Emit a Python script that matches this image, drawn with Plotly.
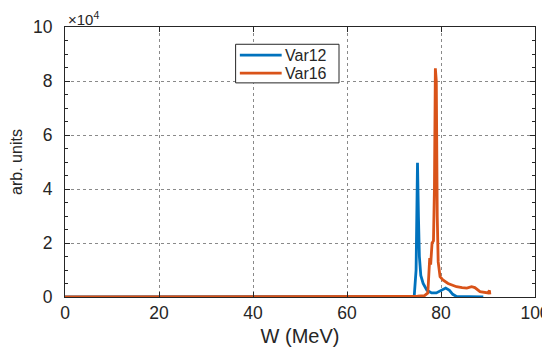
import plotly.graph_objects as go

# Var12 (blue) spectrum
w12 = [0, 60, 70, 73, 74.3, 74.7, 75.0, 75.2, 75.4, 75.7, 76.2, 77, 78, 79, 80, 81, 81.8, 82.5, 83.3, 86, 89]
v12 = [0, 0, 0, 0, 200, 10000, 49700, 30000, 15000, 8000, 5000, 2500, 1500, 1500, 2500, 3300, 2500, 1000, 200, 0, 0]

# Var16 (orange) spectrum
w16 = [0, 60, 69, 72, 75, 76.5, 77.2, 77.6, 77.8, 78.1, 78.4, 78.6, 78.8, 79.0, 79.2, 79.4, 79.8, 80.4, 81.5, 83.3, 84.5,
       85.5, 86.5, 87.2, 88.3, 89.3, 90.0, 90.3, 90.4]
v16 = [0, 0, 100, 200, 300, 500, 1500, 14400, 12000, 20000, 20800, 40000, 84700, 80000, 30000, 13000, 7500, 6300, 5000,
       3800, 3500, 3300, 3800, 3500, 2000, 1700, 1500, 2400, 1000]

series_names = ["Var12", "Var16"]
series_colors = ["#0072BD", "#D95319"]

yticks = [0, 20000, 40000, 60000, 80000, 100000]
ytick_labels = ["0", "2", "4", "6", "8", "10"]
xticks = [0, 20, 40, 60, 80, 100]

fig = go.Figure()
for wx, vy, nm, col in zip([w12, w16], [v12, v16], series_names, series_colors):
    fig.add_trace(go.Scatter(x=wx, y=vy, mode="lines", name=nm,
                             line=dict(color=col, width=2.8), showlegend=False))

font_family = "Liberation Sans, Arial, sans-serif"
axis_common = dict(showline=True, linecolor="#262626", linewidth=1, mirror="ticks",
                   ticks="inside", ticklen=5, tickcolor="#262626",
                   showgrid=True, gridcolor="#8a8a8a", griddash="dot", gridwidth=1,
                   zeroline=False, automargin=False, ticklabeloverflow="allow",
                   tickfont=dict(size=17.5, color="#262626", family=font_family))

fig.update_layout(
    width=542, height=343,
    margin=dict(l=57, r=15, t=19, b=54),
    paper_bgcolor="white", plot_bgcolor="white",
    font=dict(family=font_family, color="#262626"),
    showlegend=False,
    xaxis=dict(range=[0, 100], tickvals=xticks,
               title=dict(text="W (MeV)", font=dict(size=20), standoff=6),
               **axis_common),
    yaxis=dict(range=[0, 100000], tickvals=yticks, ticktext=ytick_labels,
               ticklabelstandoff=8,
               title=dict(text="arb. units", font=dict(size=16), standoff=12),
               minor=dict(ticks="inside", ticklen=3, tickcolor="#262626", nticks=5, showgrid=False),
               **axis_common),
)

# legend box (MATLAB style)
fig.add_shape(type="rect", xref="paper", yref="paper", x0=0.363, x1=0.583, y0=0.793, y1=0.936,
              line=dict(color="#262626", width=1), fillcolor="white", layer="above")
for i, (nm, col) in enumerate(zip(series_names, series_colors)):
    yy = 0.896 - i * 0.067
    fig.add_shape(type="line", xref="paper", yref="paper", x0=0.372, x1=0.461, y0=yy, y1=yy,
                  line=dict(color=col, width=2.8), layer="above")
    fig.add_annotation(x=0.468, y=yy, xref="paper", yref="paper", xanchor="left", yanchor="middle",
                       text=nm, showarrow=False, xshift=-2,
                       font=dict(size=16, color="#262626", family=font_family))

fig.add_annotation(x=0, y=1, xref="paper", yref="paper", xanchor="left", yanchor="bottom",
                   text="×10<sup>4</sup>", showarrow=False, xshift=1, yshift=-3,
                   font=dict(size=15, color="#262626", family=font_family))

fig.write_html("out.html")
